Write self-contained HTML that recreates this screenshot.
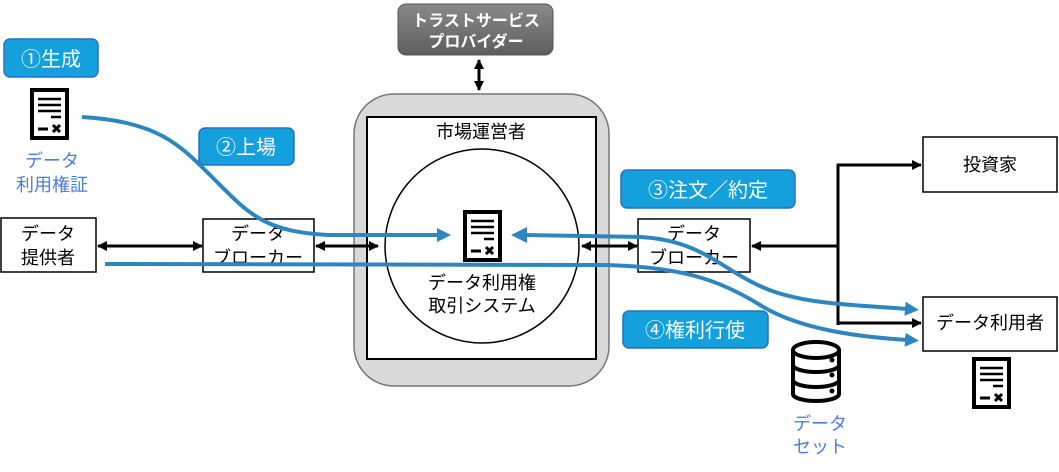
<!DOCTYPE html>
<html><head><meta charset="utf-8"><style>
html,body{margin:0;padding:0;background:#fff;}
svg{display:block;font-family:"Liberation Sans","Noto Sans CJK JP",sans-serif;}
</style></head><body>
<svg width="1059" height="472" viewBox="0 0 1059 472" xmlns="http://www.w3.org/2000/svg">
<defs>
<marker id="ab" markerWidth="10" markerHeight="10" refX="9" refY="5" orient="auto" markerUnits="userSpaceOnUse"><path d="M0,0 L10,5 L0,10 Z" fill="#000"/></marker>
<marker id="abs" markerWidth="10" markerHeight="10" refX="1" refY="5" orient="auto" markerUnits="userSpaceOnUse"><path d="M10,0 L0,5 L10,10 Z" fill="#000"/></marker>
<marker id="bl" markerWidth="14" markerHeight="14" refX="3" refY="7" orient="auto" markerUnits="userSpaceOnUse"><path d="M0,0 L14,7 L0,14 Z" fill="#2e86c1"/></marker>
<linearGradient id="gg" x1="0" y1="0" x2="0" y2="1"><stop offset="0" stop-color="#8a8a8a"/><stop offset="1" stop-color="#5e5e5e"/></linearGradient>
<g id="doc">
<rect x="2" y="2" width="35" height="48" fill="#fff" stroke="#000" stroke-width="4"/>
<line x1="8" y1="11" x2="31" y2="11" stroke="#000" stroke-width="2.5"/>
<line x1="8" y1="17" x2="31" y2="17" stroke="#000" stroke-width="2.5"/>
<line x1="8" y1="23" x2="31" y2="23" stroke="#000" stroke-width="2.5"/>
<line x1="21" y1="29" x2="31" y2="29" stroke="#000" stroke-width="2.5"/>
<line x1="8" y1="41" x2="18" y2="41" stroke="#000" stroke-width="3"/>
<path d="M23,37 L30,44 M30,37 L23,44" stroke="#000" stroke-width="3"/>
</g>
</defs>

<!-- step labels -->
<rect x="4" y="39" width="94" height="38" rx="6" fill="#14a0dc" stroke="#2a6fc0" stroke-width="1.5"/>
<text x="51" y="66" font-size="20" fill="#fff" text-anchor="middle">①生成</text>
<rect x="199" y="128" width="95" height="37" rx="6" fill="#14a0dc" stroke="#2a6fc0" stroke-width="1.5"/>
<text x="246" y="154" font-size="20" fill="#fff" text-anchor="middle">②上場</text>
<rect x="621" y="170" width="174" height="38" rx="6" fill="#14a0dc" stroke="#2a6fc0" stroke-width="1.5"/>
<text x="708" y="197" font-size="20" fill="#fff" text-anchor="middle">③注文／約定</text>
<rect x="623" y="311" width="145" height="37" rx="6" fill="#14a0dc" stroke="#2a6fc0" stroke-width="1.5"/>
<text x="695" y="337" font-size="20" fill="#fff" text-anchor="middle">④権利行使</text>

<!-- doc 1 -->
<use href="#doc" x="30" y="88"/>
<text x="52" y="167" font-size="18" fill="#4a7ee0" text-anchor="middle">データ</text>
<text x="52" y="191" font-size="18" fill="#4a7ee0" text-anchor="middle">利用権証</text>

<!-- trust provider -->
<rect x="398" y="4" width="155" height="51" rx="8" fill="url(#gg)" stroke="#555"/>
<text x="476" y="26" font-size="16" font-weight="bold" fill="#fff" text-anchor="middle">トラストサービス</text>
<text x="476" y="47" font-size="16" font-weight="bold" fill="#fff" text-anchor="middle">プロバイダー</text>
<line x1="479" y1="60" x2="479" y2="90" stroke="#000" stroke-width="3" marker-end="url(#ab)" marker-start="url(#abs)"/>

<!-- market -->
<rect x="354" y="94" width="255" height="292" rx="40" fill="#d9d9d9" stroke="#777" stroke-width="1.5"/>
<rect x="367" y="117" width="229" height="242" fill="#fff" stroke="#000" stroke-width="2"/>
<text x="481" y="138" font-size="18" text-anchor="middle">市場運営者</text>
<circle cx="482" cy="246" r="97" fill="#fff" stroke="#000" stroke-width="1.5"/>
<use href="#doc" x="463" y="210"/>
<text x="482" y="289" font-size="18" text-anchor="middle">データ利用権</text>
<text x="482" y="312" font-size="18" text-anchor="middle">取引システム</text>

<!-- left boxes -->
<rect x="1" y="218" width="95" height="54" fill="#fff" stroke="#000" stroke-width="1.5"/>
<text x="48" y="240" font-size="18" text-anchor="middle">データ</text>
<text x="48" y="264" font-size="18" text-anchor="middle">提供者</text>
<rect x="203" y="219" width="111" height="53" fill="#fff" stroke="#000" stroke-width="1.5"/>
<text x="258" y="240" font-size="18" text-anchor="middle">データ</text>
<text x="258" y="264" font-size="18" text-anchor="middle">ブローカー</text>
<line x1="98" y1="246" x2="202" y2="246" stroke="#000" stroke-width="3" marker-end="url(#ab)" marker-start="url(#abs)"/>
<line x1="316" y1="246" x2="378" y2="246" stroke="#000" stroke-width="3" marker-end="url(#ab)" marker-start="url(#abs)"/>

<!-- right -->
<rect x="638" y="219" width="112" height="53" fill="#fff" stroke="#000" stroke-width="1.5"/>
<text x="694" y="240" font-size="18" text-anchor="middle">データ</text>
<text x="694" y="264" font-size="18" text-anchor="middle">ブローカー</text>
<line x1="582" y1="246" x2="637" y2="246" stroke="#000" stroke-width="3" marker-end="url(#ab)" marker-start="url(#abs)"/>
<line x1="838" y1="246" x2="752" y2="246" stroke="#000" stroke-width="3" marker-end="url(#ab)"/>
<line x1="838" y1="164" x2="838" y2="325" stroke="#000" stroke-width="3"/>
<line x1="837" y1="165" x2="921" y2="165" stroke="#000" stroke-width="3" marker-end="url(#ab)"/>
<line x1="837" y1="323" x2="921" y2="323" stroke="#000" stroke-width="3" marker-end="url(#ab)"/>
<rect x="923" y="137" width="134" height="55" fill="#fff" stroke="#000" stroke-width="1.5"/>
<text x="990" y="171" font-size="18" text-anchor="middle">投資家</text>
<rect x="923" y="297" width="134" height="54" fill="#fff" stroke="#000" stroke-width="1.5"/>
<text x="990" y="329" font-size="18" text-anchor="middle">データ利用者</text>
<use href="#doc" x="972" y="357"/>

<!-- database -->
<g fill="#fff" stroke="#000" stroke-width="4">
<path d="M793,350 L793,394 A23,7 0 0 0 839,394 L839,350"/>
<ellipse cx="816" cy="350" rx="23" ry="8"/>
<path d="M793,365 A23,7 0 0 0 839,365" fill="none"/>
<path d="M793,380 A23,7 0 0 0 839,380" fill="none"/>
</g>
<circle cx="832" cy="360" r="2.5"/><circle cx="832" cy="375" r="2.5"/><circle cx="832" cy="391" r="2.5"/>
<text x="820" y="430" font-size="18" fill="#4a7ee0" text-anchor="middle">データ</text>
<text x="820" y="453" font-size="18" fill="#4a7ee0" text-anchor="middle">セット</text>

<!-- blue flows -->
<g fill="none" stroke="#2e86c1" stroke-width="4">
<path d="M82,117 C160,122 180,145 215,180 C250,215 265,232 330,235 L440,235" marker-end="url(#bl)"/>
<path d="M524,235 L640,237 C700,240 720,268 760,286 C800,305 860,305 908,309" marker-end="url(#bl)"/>
<path d="M105,264 L600,265 C680,266 720,280 760,305 C800,330 860,337 908,340" marker-end="url(#bl)"/>
</g>
<path d="M527,227 L511,235 L527,243 Z" fill="#2e86c1"/>
</svg>
</body></html>
